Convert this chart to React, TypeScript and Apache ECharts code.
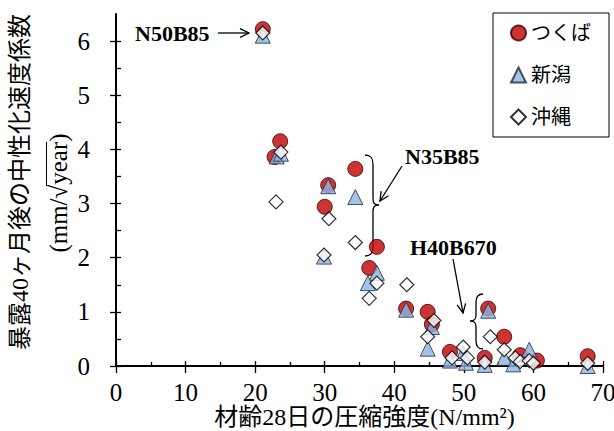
import React, { useEffect, useRef } from "react";
import * as echarts from "echarts";

// Carbonation rate coefficient after 40 months of exposure vs. 28-day compressive strength
const seriesNames = ["つくば", "新潟", "沖縄"];

const tsukuba: [number, number][] = [
  [21.1, 6.22], [23.6, 4.15], [22.8, 3.86], [30.5, 3.34], [30.0, 2.94],
  [34.4, 3.64], [37.5, 2.2], [36.4, 1.81], [41.7, 1.06], [44.8, 1.0],
  [45.4, 0.77], [48.0, 0.26], [53.5, 1.06], [55.8, 0.54], [53.0, 0.15],
  [58.1, 0.2], [60.5, 0.1], [67.8, 0.18],
];

const niigata: [number, number][] = [
  [21.1, 6.1], [23.1, 3.87], [23.7, 3.92], [30.5, 3.32], [34.4, 3.12],
  [29.9, 2.02], [37.5, 1.72], [36.2, 1.53], [41.7, 1.04], [45.4, 0.72],
  [44.8, 0.32], [48.0, 0.1], [49.9, 0.24], [50.3, 0.06], [53.5, 1.02],
  [53.0, 0.02], [55.8, 0.15], [57.1, 0.03], [59.4, 0.3], [67.8, 0.0],
];

const okinawa: [number, number][] = [
  [21.1, 6.15], [23.7, 3.95], [23.0, 3.03], [30.6, 2.72], [29.9, 2.05],
  [34.4, 2.28], [37.5, 1.53], [36.4, 1.25], [41.8, 1.5], [45.7, 0.84],
  [44.8, 0.54], [48.3, 0.15], [49.9, 0.35], [50.5, 0.15], [53.8, 0.54],
  [53.0, 0.07], [55.8, 0.3], [57.4, 0.15], [58.1, 0.08], [59.4, 0.1],
  [60.0, 0.05], [67.8, 0.05],
];

const xRange = { min: 0, max: 70, interval: 10 };
const yRange = { min: 0, max: 6.5, interval: 1 };

const yTitle = "暴露40ヶ月後の中性化速度係数";
const yUnit = "(mm/√year)";
const xTitle = "材齢28日の圧縮強度(N/mm²)";

const SERIF = "'Liberation Serif', 'Times New Roman', 'Noto Sans CJK JP', serif";

// curly braces used to group mix labels
echarts.graphic.registerShape(
  "braceRight",
  echarts.graphic.extendPath(
    "M0,0 C6,0 8,3 8,10 L8,43 C8,48 9,50 14,50 C9,50 8,52 8,57 L8,91 C8,98 6,101 0,101",
    {}
  )
);
echarts.graphic.registerShape(
  "braceLeft",
  echarts.graphic.extendPath(
    "M13,0 C8,0 6,3 6,8 L6,21 C6,25 5,27 0,27 C5,27 6,29 6,33 L6,47 C6,52 8,55 13,55",
    {}
  )
);

function arrow(x1: number, y1: number, x2: number, y2: number) {
  const dx = x2 - x1;
  const dy = y2 - y1;
  const len = Math.hypot(dx, dy);
  const ux = dx / len;
  const uy = dy / len;
  const head = 10;
  const spread = 0.45;
  const p1 = [
    x2 - head * (ux * Math.cos(spread) - uy * Math.sin(spread)),
    y2 - head * (uy * Math.cos(spread) + ux * Math.sin(spread)),
  ];
  const p2 = [
    x2 - head * (ux * Math.cos(-spread) - uy * Math.sin(-spread)),
    y2 - head * (uy * Math.cos(-spread) + ux * Math.sin(-spread)),
  ];
  const stroke = { stroke: "#000", lineWidth: 1.3, fill: null };
  return [
    { type: "line", shape: { x1, y1, x2, y2 }, style: stroke },
    { type: "polyline", shape: { points: [p1, [x2, y2], p2] }, style: stroke },
  ];
}

function label(text: string, x: number, y: number) {
  return {
    type: "text",
    x,
    y,
    style: {
      text,
      font: `bold 22px ${SERIF}`,
      fill: "#000",
      align: "left",
      verticalAlign: "middle",
    },
  };
}

export default function App() {
  const ref = useRef<HTMLDivElement>(null);

  useEffect(() => {
    document.body.style.margin = "0";
    if (!ref.current) return;
    const chart = echarts.init(ref.current, undefined, { renderer: "svg" });

    const axisLine = { lineStyle: { color: "#000", width: 2 } };
    const tickStyle = { color: "#000", width: 1.3 };

    chart.setOption({
      animation: false,
      backgroundColor: "#fff",
      grid: [
        { left: 116, right: 11, top: 14, bottom: 65, outerBoundsMode: "none" },
        // same plot box but topped at y = 6, carries the inward and minor ticks
        {
          left: 116,
          right: 11,
          top: 14 + (352 * 0.5) / 6.5,
          bottom: 65,
          outerBoundsMode: "none",
        },
      ],
      legend: {
        data: seriesNames,
        orient: "vertical",
        left: 493,
        top: 13,
        padding: [10, 18, 10, 17],
        itemGap: 22,
        itemWidth: 15,
        itemHeight: 15,
        borderColor: "#000",
        borderWidth: 1,
        textStyle: {
          fontFamily: SERIF,
          fontSize: 20,
          lineHeight: 20,
          color: "#000",
        },
      },
      xAxis: [
        {
          type: "value",
          gridIndex: 0,
          ...xRange,
          name: xTitle,
          nameLocation: "middle",
          nameGap: 39,
          nameMoveOverlap: false,
          nameTextStyle: {
            fontFamily: SERIF,
            fontSize: 24,
            lineHeight: 24,
            color: "#000",
            padding: [0, 0, 0, 10],
          },
          axisLine,
          axisTick: { show: true, inside: false, length: 7, lineStyle: tickStyle },
          axisLabel: { fontFamily: SERIF, fontSize: 25, color: "#000", margin: 14 },
          splitLine: { show: false },
        },
        {
          type: "value",
          gridIndex: 1,
          ...xRange,
          axisLine: { show: false },
          axisTick: { show: true, inside: true, length: 5, lineStyle: tickStyle },
          minorTick: { show: true, splitNumber: 2, length: 4, lineStyle: tickStyle },
          axisLabel: { show: false },
          splitLine: { show: false },
        },
      ],
      yAxis: [
        {
          type: "value",
          gridIndex: 0,
          ...yRange,
          axisLine: { show: true, ...axisLine },
          axisTick: { show: true, inside: false, length: 6, lineStyle: tickStyle },
          axisLabel: {
            fontFamily: SERIF,
            fontSize: 25,
            color: "#000",
            margin: 26,
            showMaxLabel: false,
          },
          splitLine: { show: false },
        },
        {
          type: "value",
          gridIndex: 1,
          min: 0,
          max: 6,
          interval: 1,
          axisLine: { show: false },
          axisTick: { show: true, inside: true, length: 5, lineStyle: tickStyle },
          minorTick: { show: true, splitNumber: 2, length: 5, lineStyle: tickStyle },
          axisLabel: { show: false },
          splitLine: { show: false },
        },
      ],
      series: [
        {
          name: seriesNames[0],
          type: "scatter",
          data: tsukuba,
          symbol: "circle",
          symbolSize: 15,
          itemStyle: { color: "#C00000", borderColor: "#3a0000", borderWidth: 1 },
        },
        {
          name: seriesNames[1],
          type: "scatter",
          data: niigata,
          symbol: "triangle",
          symbolSize: 15,
          itemStyle: { color: "#8EB4E3", borderColor: "#1f2a3a", borderWidth: 1 },
        },
        {
          name: seriesNames[2],
          type: "scatter",
          data: okinawa,
          symbol: "diamond",
          symbolSize: 14,
          itemStyle: { color: "#fff", borderColor: "#000", borderWidth: 1.2 },
        },
      ],
      graphic: [
        {
          type: "text",
          x: 20,
          y: 182,
          rotation: Math.PI / 2,
          style: {
            text: yTitle,
            font: `24px ${SERIF}`,
            fill: "#000",
            align: "center",
            verticalAlign: "middle",
          },
        },
        {
          type: "text",
          x: 58,
          y: 193,
          rotation: Math.PI / 2,
          style: {
            text: yUnit,
            font: `25px ${SERIF}`,
            fill: "#000",
            align: "center",
            verticalAlign: "middle",
          },
        },
        // vinculum of the square root over "year"
        {
          type: "line",
          shape: { x1: 46.5, y1: 186, x2: 46.5, y2: 142 },
          style: { stroke: "#000", lineWidth: 1 },
        },
        label("N50B85", 135, 33),
        ...arrow(218, 33, 249, 33),
        label("N35B85", 405, 156),
        ...arrow(402, 166, 380, 201),
        {
          type: "braceRight",
          x: 365,
          y: 155,
          style: { stroke: "#000", lineWidth: 1.3, fill: null },
        },
        label("H40B670", 410, 247),
        ...arrow(453, 259, 463, 313),
        {
          type: "braceLeft",
          x: 470,
          y: 294,
          style: { stroke: "#000", lineWidth: 1.3, fill: null },
        },
      ],
    });

    return () => chart.dispose();
  }, []);

  return <div ref={ref} style={{ width: 614, height: 431 }} />;
}
